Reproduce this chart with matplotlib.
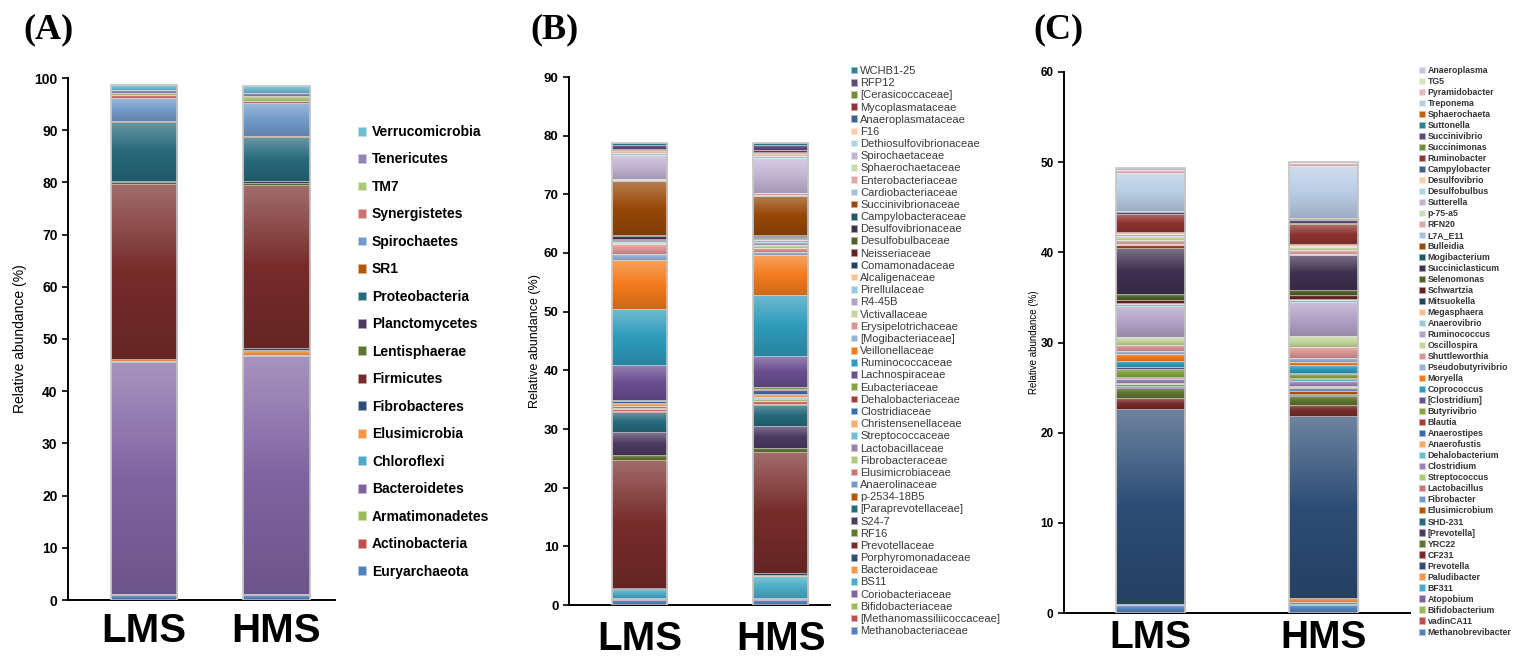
import numpy as np
import matplotlib
matplotlib.use("Agg")
import matplotlib.pyplot as plt
from matplotlib.patches import Patch
from matplotlib.colors import to_rgb, LinearSegmentedColormap

plt.rcParams['font.family'] = ['Liberation Sans', 'DejaVu Sans']

groups = ["LMS", "HMS"]

# (A) phylum level, bottom -> top
phyla = ["Euryarchaeota", "Actinobacteria", "Armatimonadetes", "Bacteroidetes",
         "Chloroflexi", "Elusimicrobia", "Fibrobacteres", "Firmicutes",
         "Lentisphaerae", "Planctomycetes", "Proteobacteria", "SR1",
         "Spirochaetes", "Synergistetes", "TM7", "Tenericutes", "Verrucomicrobia"]
phyla_lms = [0.95, 0.2, 0.05, 44.4, 0.1, 0.4, 0.15, 33.4, 0.45, 0.1, 11.4, 0.2,
             4.4, 0.5, 0.5, 0.5, 0.9]
phyla_hms = [0.95, 0.15, 0.05, 45.65, 0.15, 0.9, 0.4, 31.2, 0.45, 0.35, 8.4, 0.3,
             6.2, 0.5, 0.9, 0.6, 1.4]

# (B) family level
families = ["Methanobacteriaceae", "[Methanomassiliicoccaceae]", "Bifidobacteriaceae",
            "Coriobacteriaceae", "BS11", "Bacteroidaceae", "Porphyromonadaceae",
            "Prevotellaceae", "RF16", "S24-7", "[Paraprevotellaceae]", "p-2534-18B5",
            "Anaerolinaceae", "Elusimicrobiaceae", "Fibrobacteraceae", "Lactobacillaceae",
            "Streptococcaceae", "Christensenellaceae", "Clostridiaceae",
            "Dehalobacteriaceae", "Eubacteriaceae", "Lachnospiraceae", "Ruminococcaceae",
            "Veillonellaceae", "[Mogibacteriaceae]", "Erysipelotrichaceae",
            "Victivallaceae", "R4-45B", "Pirellulaceae", "Alcaligenaceae",
            "Comamonadaceae", "Neisseriaceae", "Desulfobulbaceae", "Desulfovibrionaceae",
            "Campylobacteraceae", "Succinivibrionaceae", "Cardiobacteriaceae",
            "Enterobacteriaceae", "Sphaerochaetaceae", "Spirochaetaceae",
            "Dethiosulfovibrionaceae", "F16", "Anaeroplasmataceae", "Mycoplasmataceae",
            "[Cerasicoccaceae]", "RFP12", "WCHB1-25"]
families_lms = [0.9, 0.15, 0.05, 0.1, 1.5, 0.1, 0.1, 21.9, 0.85, 3.9, 3.4, 0.1,
                0.1, 0.3, 0.2, 0.2, 0.1, 0.4, 0.4, 0.1, 0.1, 6.0, 9.45, 8.4,
                1.1, 1.6, 0.15, 0.15, 0.35, 0.1, 0.05, 0.05, 0.05, 0.5, 0.1, 9.3,
                0.1, 0.15, 0.1, 4.1, 0.35, 0.4, 0.1, 0.1, 0.05, 0.6, 0.35]
families_hms = [0.9, 0.1, 0.1, 0.15, 3.75, 0.15, 0.35, 20.5, 0.7, 3.8, 3.6, 0.1,
                0.1, 0.5, 0.3, 0.2, 0.1, 0.5, 0.7, 0.2, 0.3, 5.4, 10.4, 6.7,
                0.6, 0.7, 0.5, 0.4, 0.4, 0.2, 0.1, 0.1, 0.1, 0.2, 0.1, 6.8,
                0.1, 0.3, 0.1, 5.9, 0.4, 0.4, 0.2, 0.3, 0.1, 0.8, 0.4]

# (C) genus level
genera = ["Methanobrevibacter", "vadinCA11", "Bifidobacterium", "Atopobium", "BF311",
          "Paludibacter", "Prevotella", "CF231", "YRC22", "[Prevotella]", "SHD-231",
          "Elusimicrobium", "Fibrobacter", "Lactobacillus", "Streptococcus",
          "Clostridium", "Dehalobacterium", "Anaerofustis", "Anaerostipes", "Blautia",
          "Butyrivibrio", "[Clostridium]", "Coprococcus", "Moryella",
          "Pseudobutyrivibrio", "Shuttleworthia", "Oscillospira", "Ruminococcus",
          "Anaerovibrio", "Megasphaera", "Mitsuokella", "Schwartzia", "Selenomonas",
          "Succiniclasticum", "Mogibacterium", "Bulleidia", "L7A_E11", "RFN20",
          "p-75-a5", "Sutterella", "Desulfobulbus", "Desulfovibrio", "Campylobacter",
          "Ruminobacter", "Succinimonas", "Succinivibrio", "Suttonella",
          "Sphaerochaeta", "Treponema", "Pyramidobacter", "TG5", "Anaeroplasma"]
genera_lms = [0.85, 0.05, 0.05, 0.03, 0.05, 0.02, 21.6, 1.2, 1.15, 0.1, 0.05, 0.05,
              0.2, 0.05, 0.05, 0.45, 0.1, 0.03, 0.02, 0.05, 0.95, 0.15, 0.7, 0.8,
              0.3, 0.7, 0.85, 3.4, 0.3, 0.05, 0.05, 0.35, 0.6, 5.1, 0.05, 0.3,
              0.1, 0.5, 0.45, 0.15, 0.05, 0.15, 0.05, 2.0, 0.05, 0.2, 0.03, 0.07,
              4.2, 0.3, 0.05, 0.15]
genera_hms = [0.9, 0.05, 0.05, 0.05, 0.15, 0.45, 20.15, 1.25, 1.0, 0.1, 0.1, 0.4,
              0.35, 0.05, 0.15, 0.55, 0.15, 0.05, 0.05, 0.1, 0.4, 0.15, 0.8, 0.4,
              0.45, 1.25, 1.2, 3.7, 0.3, 0.05, 0.05, 0.4, 0.6, 3.8, 0.05, 0.05,
              0.05, 0.45, 0.35, 0.05, 0.05, 0.2, 0.05, 2.2, 0.1, 0.3, 0.1, 0.2,
              5.75, 0.3, 0.03, 0.05]

# office-style series colours, 6 accents x variations
palette = [
    "#4F81BD", "#C0504D", "#9BBB59", "#8064A2", "#4BACC6", "#F79646",
    "#2C4D75", "#772C2A", "#5F7530", "#4D3B62", "#276A7C", "#B65708",
    "#729ACA", "#CD7371", "#AFC97A", "#9983B5", "#6FBDD1", "#F9AB6B",
    "#3A6CB0", "#A63C3A", "#84A540", "#6A4F91", "#2F9CBC", "#F47B1C",
    "#95B3D7", "#D99694", "#C3D69B", "#B3A2C7", "#93CDDD", "#FAC090",
    "#254061", "#632423", "#4F6228", "#3F3151", "#215968", "#984807",
    "#A7C0DE", "#E0A7A6", "#CDDCAF", "#C2B5D4", "#A8D7E4", "#FBCDA8",
    "#3B6290", "#8E3431", "#728D3C", "#5E4A7A", "#2F7F95", "#C8600B",
    "#B9CDE5", "#E6B9B8", "#D7E4BD", "#CCC1DA", "#B7DEE8", "#FCD5B5",
]


def tint(c, t):
    r = np.array(to_rgb(c))
    return tuple(r + (1 - r) * t)


def shade(c, f):
    return tuple(np.array(to_rgb(c)) * f)


grad = np.linspace(0, 1, 32).reshape(-1, 1)


def stacked(ax, names, lms, hms, width):
    x = np.arange(len(groups))
    vals = np.array([lms, hms])
    bottoms = np.zeros(len(groups))
    handles = []
    for i, name in enumerate(names):
        c = palette[i]
        bars = ax.bar(x, vals[:, i], width, bottom=bottoms, color=c,
                      edgecolor=tint(c, 0.55), linewidth=0.5, zorder=2)
        cmap = LinearSegmentedColormap.from_list("g", [shade(c, 0.85), c, tint(c, 0.3)])
        for p in bars:
            h = p.get_height()
            if h <= 0:
                continue
            x0, y0, w = p.get_x(), p.get_y(), p.get_width()
            im = ax.imshow(grad, cmap=cmap, extent=(x0, x0 + w, y0, y0 + h),
                           origin="lower", aspect="auto", zorder=2.5,
                           interpolation="bilinear")
            im.set_clip_path(p)
            p.set_facecolor("none")
            p.set_zorder(3)
        bottoms = bottoms + vals[:, i]
        handles.append(Patch(facecolor=c, edgecolor=tint(c, 0.55), linewidth=0.5, label=name))
    ax.bar(x, bottoms, width, fill=False, edgecolor="#c4c4c4", linewidth=1.2, zorder=4)
    return handles[::-1]


def style(ax, ymax, xlim, tick_size, label_size, label_x, pad, group_size=29):
    ax.set_xlim(*xlim)
    ax.set_ylim(0, ymax)
    ax.set_yticks(np.arange(0, ymax + 1, 10))
    ax.set_xticks(np.arange(len(groups)), groups)
    for s in ("top", "right"):
        ax.spines[s].set_visible(False)
    for s in ("left", "bottom"):
        ax.spines[s].set_linewidth(1.4)
    ax.tick_params(axis="x", length=0, pad=pad)
    ax.tick_params(axis="y", direction="out", length=4, width=1.2, labelsize=tick_size)
    for t in ax.get_xticklabels():
        t.set_fontfamily(["Liberation Sans Narrow", "Liberation Sans"])
        t.set_fontweight("bold")
        t.set_fontsize(group_size)
    for t in ax.get_yticklabels():
        t.set_fontweight("bold")
    ax.set_ylabel("Relative abundance (%)", fontsize=label_size)
    ax.yaxis.set_label_coords(label_x, 0.5)


W, H = 1518, 661
fig = plt.figure(figsize=(W / 100, H / 100), dpi=100)

axA = fig.add_axes([68 / W, 1 - 600 / H, 267 / W, 522 / H])
axB = fig.add_axes([569 / W, 1 - 605 / H, 261 / W, 528 / H])
axC = fig.add_axes([1064 / W, 1 - 613 / H, 346 / W, 541 / H])

hA = stacked(axA, phyla, phyla_lms, phyla_hms, 0.5)
hB = stacked(axB, families, families_lms, families_hms, 0.39)
hC = stacked(axC, genera, genera_lms, genera_hms, 0.4)

style(axA, 100, (-0.57, 1.44), 10, 10, -0.154, 9)
style(axB, 90, (-0.5, 1.35), 9.5, 9, -0.107, 11)
style(axC, 60, (-0.5, 1.5), 8.5, 7, -0.072, 5, group_size=28)

fig.legend(handles=hA, loc="upper left", bbox_to_anchor=(358 / W, 1 - 125 / H),
           frameon=False, prop={"size": 10, "weight": "bold"}, handlelength=0.6,
           handleheight=0.6, handletextpad=0.4, labelspacing=0.97,
           borderpad=0, borderaxespad=0)
fig.legend(handles=hB, loc="upper left", bbox_to_anchor=(851 / W, 1 - 66 / H),
           frameon=False, prop={"size": 8}, labelcolor="#3a3a3a", handlelength=0.55,
           handleheight=0.55, handletextpad=0.3, labelspacing=0.196,
           borderpad=0, borderaxespad=0)
fig.legend(handles=hC, loc="upper left", bbox_to_anchor=(1419 / W, 1 - 66 / H),
           frameon=False, prop={"size": 6.3, "weight": "bold"}, labelcolor="#333333",
           handlelength=0.7, handleheight=0.7, handletextpad=0.3, labelspacing=0.23,
           borderpad=0, borderaxespad=0)

for lx, letter in [(23, "(A)"), (530, "(B)"), (1033, "(C)")]:
    fig.text(lx / W, 1 - 38 / H, letter, family=["Liberation Serif", "DejaVu Serif"],
             weight="bold", size=26, va="baseline")

fig.savefig("out.png", dpi=100)
